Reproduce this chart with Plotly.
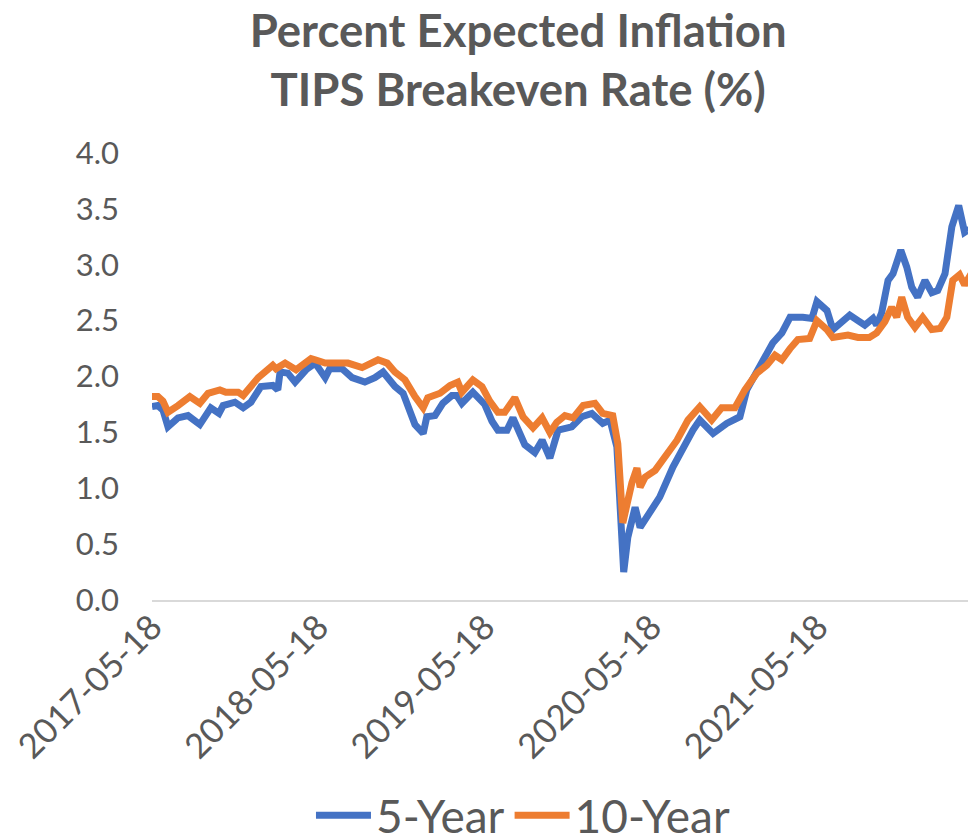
import plotly.graph_objects as go

# 5-year breakeven
dates_5y = [
    "2017-05-18", "2017-05-31", "2017-06-11", "2017-06-22", "2017-07-14", "2017-08-05",
    "2017-08-31", "2017-09-24", "2017-10-12", "2017-10-21", "2017-11-16", "2017-12-04",
    "2017-12-21", "2018-01-12", "2018-02-07", "2018-02-18", "2018-02-23", "2018-03-12",
    "2018-03-28", "2018-04-21", "2018-05-11", "2018-05-24", "2018-06-02", "2018-06-12",
    "2018-07-09", "2018-07-31", "2018-08-28", "2018-09-19", "2018-10-07", "2018-11-02",
    "2018-11-20", "2018-12-16", "2019-01-03", "2019-01-11", "2019-01-29", "2019-02-15",
    "2019-03-07", "2019-03-18", "2019-03-29", "2019-04-22", "2019-05-12", "2019-05-18",
    "2019-06-03", "2019-06-16", "2019-07-06", "2019-07-19", "2019-08-14", "2019-09-05",
    "2019-09-21", "2019-10-08", "2019-10-26", "2019-11-25", "2019-12-17", "2020-01-08",
    "2020-02-01", "2020-02-17", "2020-03-03", "2020-03-10", "2020-03-18", "2020-03-27",
    "2020-04-12", "2020-04-23", "2020-05-04", "2020-05-21", "2020-06-05", "2020-07-04",
    "2020-07-26", "2020-08-17", "2020-09-01", "2020-09-30", "2020-10-30", "2020-11-28",
    "2020-12-13", "2021-01-11", "2021-02-08", "2021-02-28", "2021-03-18", "2021-04-15",
    "2021-05-05", "2021-05-16", "2021-06-07", "2021-06-20", "2021-07-10", "2021-07-27",
    "2021-08-14", "2021-08-29", "2021-09-16", "2021-09-24", "2021-10-05", "2021-10-19",
    "2021-10-30", "2021-11-16", "2021-11-29", "2021-12-10", "2021-12-23", "2022-01-08",
    "2022-01-23", "2022-02-05", "2022-02-21", "2022-03-08", "2022-03-23", "2022-04-05",
    "2022-04-21", "2022-05-08",
]
rate_5y = [
    1.73, 1.74, 1.70, 1.55, 1.63, 1.65,
    1.57, 1.72, 1.67, 1.74, 1.77, 1.72,
    1.77, 1.91, 1.92, 1.88, 2.04, 2.03,
    1.95, 2.06, 2.12, 2.03, 1.99, 2.07,
    2.07, 1.99, 1.95, 1.99, 2.04, 1.91,
    1.85, 1.57, 1.49, 1.64, 1.65, 1.76,
    1.83, 1.83, 1.76, 1.86, 1.79, 1.75,
    1.60, 1.52, 1.52, 1.63, 1.39, 1.32,
    1.43, 1.27, 1.52, 1.55, 1.64, 1.67,
    1.58, 1.61, 1.37, 0.92, 0.25, 0.56,
    0.83, 0.65, 0.72, 0.80, 0.92, 1.19,
    1.37, 1.52, 1.61, 1.49, 1.58, 1.64,
    1.88, 2.08, 2.30, 2.39, 2.53, 2.53,
    2.52, 2.67, 2.59, 2.42, 2.48, 2.55,
    2.50, 2.46, 2.52, 2.46, 2.57, 2.86,
    2.92, 3.13, 2.98, 2.80, 2.71, 2.86,
    2.75, 2.77, 2.92, 3.34, 3.53, 3.29,
    3.33, 3.22,
]

# 10-year breakeven
dates_10y = [
    "2017-05-18", "2017-05-31", "2017-06-11", "2017-06-22", "2017-07-14", "2017-08-09",
    "2017-08-31", "2017-09-18", "2017-10-14", "2017-10-27", "2017-11-23", "2017-12-04",
    "2018-01-06", "2018-02-07", "2018-02-14", "2018-03-06", "2018-03-30", "2018-04-19",
    "2018-05-02", "2018-05-11", "2018-06-02", "2018-07-22", "2018-08-22", "2018-09-26",
    "2018-10-16", "2018-11-02", "2018-11-24", "2018-12-16", "2019-01-03", "2019-01-13",
    "2019-02-09", "2019-03-03", "2019-03-20", "2019-03-29", "2019-04-22", "2019-05-12",
    "2019-05-29", "2019-06-16", "2019-07-01", "2019-07-23", "2019-08-10", "2019-09-01",
    "2019-09-21", "2019-10-08", "2019-10-23", "2019-11-10", "2019-11-28", "2019-12-20",
    "2020-01-15", "2020-02-01", "2020-02-23", "2020-03-05", "2020-03-16", "2020-04-05",
    "2020-04-16", "2020-04-23", "2020-05-04", "2020-05-26", "2020-06-12", "2020-07-13",
    "2020-08-06", "2020-09-01", "2020-09-27", "2020-10-19", "2020-11-17", "2020-12-09",
    "2021-01-04", "2021-01-26", "2021-02-13", "2021-02-28", "2021-03-18", "2021-04-04",
    "2021-04-30", "2021-05-16", "2021-06-07", "2021-06-20", "2021-07-23", "2021-08-14",
    "2021-09-08", "2021-09-24", "2021-10-12", "2021-10-27", "2021-11-07", "2021-11-18",
    "2021-12-01", "2021-12-17", "2022-01-03", "2022-01-23", "2022-02-10", "2022-02-25",
    "2022-03-10", "2022-03-25", "2022-04-05", "2022-04-21", "2022-05-08",
]
rate_10y = [
    1.82, 1.82, 1.78, 1.68, 1.74, 1.82,
    1.76, 1.85, 1.88, 1.86, 1.86, 1.83,
    1.99, 2.10, 2.07, 2.12, 2.06, 2.13,
    2.16, 2.15, 2.12, 2.12, 2.08, 2.15,
    2.12, 2.04, 1.97, 1.82, 1.72, 1.81,
    1.85, 1.92, 1.95, 1.86, 1.97, 1.91,
    1.78, 1.68, 1.68, 1.81, 1.64, 1.54,
    1.63, 1.50, 1.59, 1.65, 1.63, 1.74,
    1.76, 1.67, 1.65, 1.40, 0.69, 1.05,
    1.18, 1.01, 1.10, 1.16, 1.25, 1.43,
    1.61, 1.73, 1.61, 1.72, 1.72, 1.88,
    2.03, 2.10, 2.19, 2.15, 2.25, 2.33,
    2.34, 2.50, 2.42, 2.35, 2.37, 2.35,
    2.35, 2.39, 2.49, 2.62, 2.53, 2.71,
    2.53, 2.44, 2.53, 2.42, 2.43, 2.53,
    2.86, 2.91, 2.82, 2.93, 2.91,
]

tick_dates = ["2017-05-18", "2018-05-18", "2019-05-18", "2020-05-18", "2021-05-18"]

grey = "#595959"
font = "Lato"

fig = go.Figure()
fig.add_trace(go.Scatter(x=dates_5y, y=rate_5y, mode="lines", name="5-Year",
                         line=dict(color="#4472C4", width=7)))
fig.add_trace(go.Scatter(x=dates_10y, y=rate_10y, mode="lines", name="10-Year",
                         line=dict(color="#ED7D31", width=7)))

# the page puts the figure 8px in from the top-left, so size it to what is visible
fig.update_layout(
    width=968, height=832,
    template="plotly_white",
    plot_bgcolor="white", paper_bgcolor="white",
    margin=dict(l=144, r=0, t=145, b=240, autoexpand=False),
    font=dict(family=font, color=grey),
    title=dict(
        text="<b>Percent Expected Inflation<br>TIPS Breakeven Rate (%)</b>",
        x=0.527, xanchor="center", xref="container",
        y=0.953, yanchor="top", yref="container",
        font=dict(family=font, size=45.5, color=grey),
    ),
    legend=dict(
        orientation="h", x=0.532, xanchor="center", xref="container",
        y=-0.482, yanchor="middle", yref="paper",
        font=dict(size=46, color=grey), itemwidth=55,
        bgcolor="rgba(0,0,0,0)",
    ),
    showlegend=True,
)
fig.update_xaxes(
    range=["2017-05-18", "2022-04-30"],
    tickvals=tick_dates, ticktext=tick_dates, tickangle=-45,
    tickfont=dict(size=34.5, color=grey),
    showgrid=False, zeroline=False, automargin=False,
    showline=True, linecolor="#D9D9D9", linewidth=2,
    ticks="", ticklabelstandoff=-9, ticklabeloverflow="allow",
)
fig.update_yaxes(
    range=[0, 4], dtick=0.5, tickformat=".1f",
    tickfont=dict(size=31, color=grey),
    showgrid=False, zeroline=False, showline=False, automargin=False,
    ticks="", ticklabelstandoff=32,
)

fig.write_html("out.html")
